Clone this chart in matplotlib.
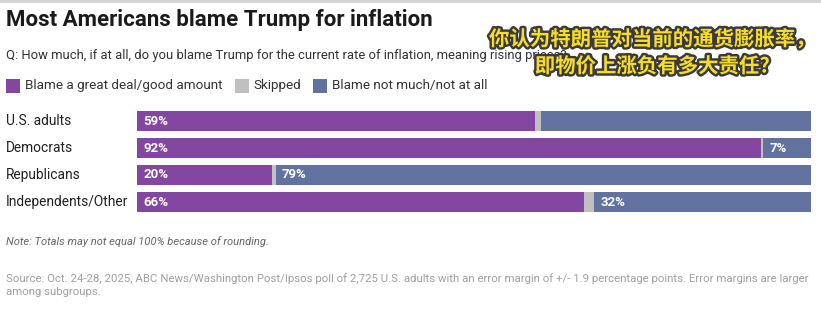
import matplotlib
matplotlib.use("Agg")
import matplotlib.pyplot as plt
import matplotlib.patheffects as pe
from matplotlib.patches import Rectangle

categories = ["U.S. adults", "Democrats", "Republicans", "Independents/Other"]
blame_much = [59, 92, 20, 66]
skipped = [1, 0.3, 0.5, 1.6]
blame_little = [40, 7, 79, 32]
show_little_label = [False, True, True, True]
series_names = ["Blame a great deal/good amount", "Skipped", "Blame not much/not at all"]
colors = ["#8347a1", "#c0c0c0", "#6172a1"]

W, H = 821, 321
fig = plt.figure(figsize=(W / 100, H / 100), dpi=100)
fig.patch.set_facecolor("white")
FONT = ["Roboto", "DejaVu Sans"]

def fx(x):
    return x / W

def fy(y):
    return 1 - y / H

# top border
fig.add_artist(Rectangle((0, fy(3)), 1, 3 / H, transform=fig.transFigure,
                         facecolor="#d4d4d4", edgecolor="none"))

fig.text(fx(6), fy(20), "Most Americans blame Trump for inflation", fontsize=16,
         fontweight="bold", family=FONT, color="#1a1a1a", va="center", ha="left")
fig.text(fx(6), fy(55), "Q: How much, if at all, do you blame Trump for the current rate of inflation, meaning rising prices?",
         fontsize=9.4, family=FONT, color="#333333", va="center", ha="left")

# legend
lx = 6
for name, c in zip(series_names, colors):
    fig.add_artist(Rectangle((fx(lx), fy(93)), 14 / W, 14 / H, transform=fig.transFigure,
                             facecolor=c, edgecolor="none"))
    t = fig.text(fx(lx + 19), fy(86), name, fontsize=9.7, family=FONT, color="#333333",
                 va="center", ha="left")
    fig.canvas.draw()
    bb = t.get_window_extent()
    lx = bb.x1 + 12

# bars (each row spans the full width, shares scaled by the row total)
ax = fig.add_axes([fx(137), fy(215.5), fx(811) - fx(137), (215.5 - 107.5) / H])
ys = list(range(len(categories)))
totals = [a + b + c for a, b, c in zip(blame_much, skipped, blame_little)]
left = [0] * len(categories)
starts = []
for vals, c in zip([blame_much, skipped, blame_little], colors):
    widths = [v / t * 100 for v, t in zip(vals, totals)]
    starts.append(list(left))
    ax.barh(ys, widths, left=left, height=0.74, color=c, edgecolor="none")
    left = [l + w for l, w in zip(left, widths)]
ax.set_xlim(0, 100)
ax.set_ylim(len(categories) - 0.5, -0.5)
ax.axis("off")

px = 100 / 674
for i, cat in enumerate(categories):
    ax.text(-137 * px + 6 * px, i, cat, fontsize=9.9, family=FONT,
            color="#222222", va="center", ha="left", clip_on=False)
    ax.text(6 * px, i, f"{blame_much[i]}%", fontsize=9.5, fontweight="bold", family=FONT,
            color="white", va="center", ha="left")
    if show_little_label[i]:
        ax.text(starts[2][i] + 6 * px, i, f"{blame_little[i]}%", fontsize=9.5, fontweight="bold",
                family=FONT, color="white", va="center", ha="left")

fig.text(fx(6), fy(242), "Note: Totals may not equal 100% because of rounding.", fontsize=8,
         style="italic", family=FONT, color="#666666", va="center", ha="left")
fig.text(fx(6), fy(279), "Source: Oct. 24-28, 2025, ABC News/Washington Post/Ipsos poll of 2,725 U.S. adults with an error margin of +/- 1.9 percentage points. Error margins are larger",
         fontsize=8.2, family=FONT, color="#a0a0a0", va="center", ha="left")
fig.text(fx(6), fy(292), "among subgroups.", fontsize=8.2, family=FONT, color="#a0a0a0",
         va="center", ha="left")

# overlay caption
cjk = ["Noto Sans CJK SC", "DejaVu Sans"]
effects = [pe.withStroke(linewidth=3.5, foreground="#3a3a3a")]
fig.text(fx(652), fy(39), "你认为特朗普对当前的通货膨胀率，", fontsize=14.7, fontweight="heavy",
         family=cjk, color="#f7dc2a", va="center", ha="center", path_effects=effects)
fig.text(fx(652), fy(66), "即物价上涨负有多大责任?", fontsize=14.7, fontweight="heavy",
         family=cjk, color="#f7dc2a", va="center", ha="center", path_effects=effects)

fig.savefig("out.png", dpi=100, facecolor="white")
